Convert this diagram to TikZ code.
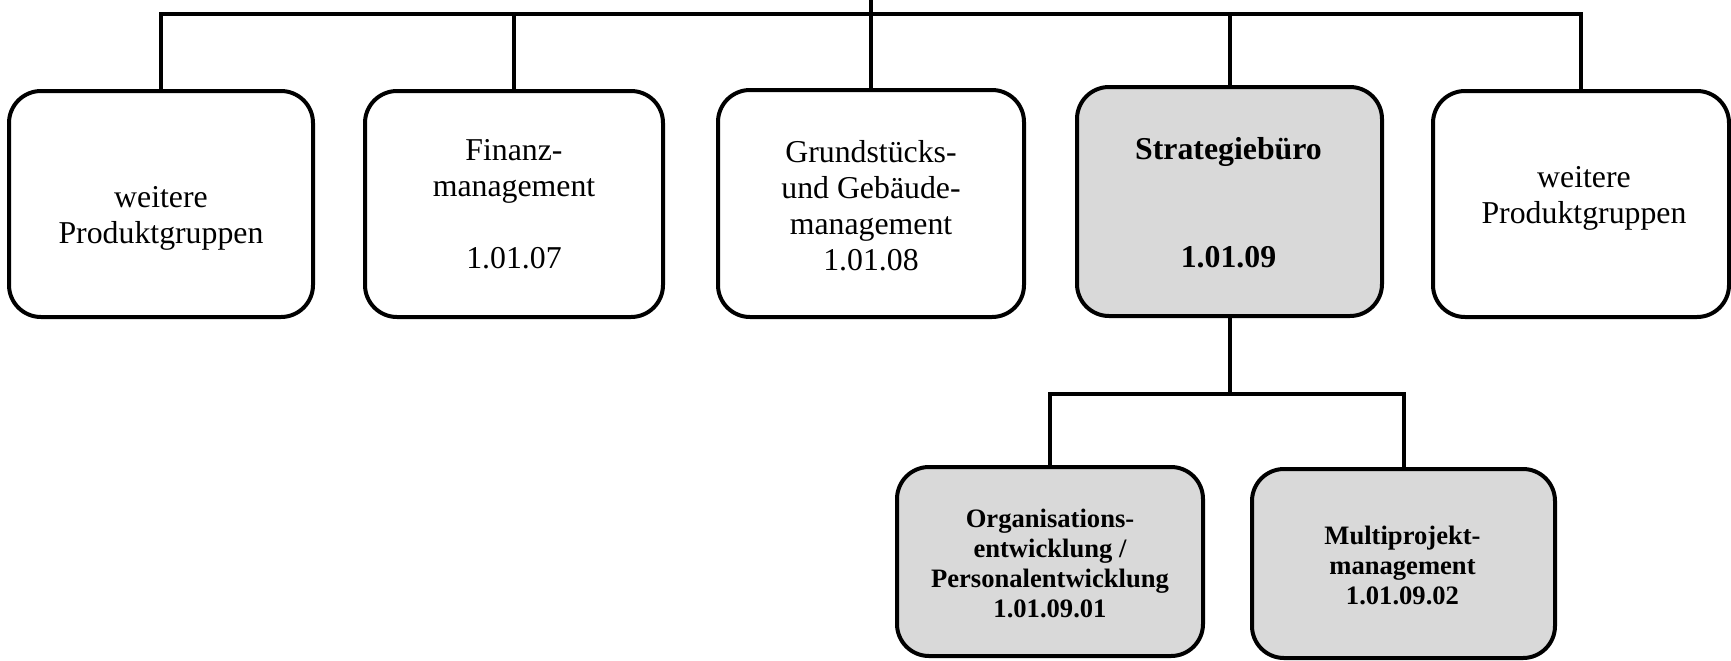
\documentclass[tikz,border=0pt]{standalone}
\usepackage{fontspec}
\setmainfont{Liberation Serif}
\begin{document}
\begin{tikzpicture}[x=0.5pt,y=-0.5pt,
  conn/.style={draw=black, line width=2pt},
  unit/.style={draw=black, line width=2pt, rounded corners=16pt, inner sep=0pt, outer sep=0pt, fill=white},
  subunit/.style={unit, fill=black!15},
  regtext/.style={inner sep=0pt, align=center, font=\fontsize{15.9}{18}\selectfont},
  boldtext/.style={inner sep=0pt, align=center, font=\bfseries\fontsize{15.9}{18}\selectfont},
  smalltext/.style={inner sep=0pt, align=center, font=\bfseries\fontsize{13.3}{15}\selectfont}]
\useasboundingbox (0,0) rectangle (1731,660);

% product group boxes
\node[unit, minimum width=152pt, minimum height=113pt] (b1) at (161,204) {};
\node[unit, minimum width=149pt, minimum height=113pt] (b2) at (514,204) {};
\node[unit, minimum width=153pt, minimum height=113.5pt] (b3) at (871,203.5) {};
\node[subunit, minimum width=152.5pt, minimum height=114.5pt] (b4) at (1229.5,201.5) {};
\node[unit, minimum width=148pt, minimum height=113pt] (b5) at (1581,204) {};

% sub units of the strategy office
\node[subunit, minimum width=153pt, minimum height=94.5pt] (c1) at (1050,561.5) {};
\node[subunit, minimum width=151.5pt, minimum height=94.5pt] (c2) at (1403.5,563.5) {};

% box texts
\node[regtext] (t1) at (161,218.3) {weitere\strut\\Produktgruppen\strut};
\node[regtext] (t2) at (514,207.3) {Finanz-\strut\\management\strut\\\strut\\1.01.07\strut};
\node[regtext] (t3) at (871,209.3) {Grundstücks-\strut\\und Gebäude-\strut\\management\strut\\1.01.08\strut};
\node[boldtext] (t4) at (1228.5,206.3) {Strategiebüro\strut\\\strut\\\strut\\1.01.09\strut};
\node[regtext] (t5) at (1584,197.8) {weitere\strut\\Produktgruppen\strut};
\node[smalltext] (t6) at (1050,566) {Organisations-\strut\\entwicklung /\strut\\Personalentwicklung\strut\\1.01.09.01\strut};
\node[smalltext] (t7) at (1402.5,568.5) {Multiprojekt-\strut\\management\strut\\1.01.09.02\strut};

% connector lines
\coordinate (top) at (871,0);
\coordinate (bus) at (871,14);
\coordinate (sbus) at (1229.5,394);
\draw[conn] (top) -- (b3.north);
\draw[conn] (b1.north) |- (bus) -| (b5.north);
\draw[conn] (b2.north) -- (b2.north |- bus);
\draw[conn] (b4.north) -- (b4.north |- bus);
\draw[conn] (b4.south) -- (sbus);
\draw[conn] (c1.north) |- (sbus) -| (c2.north);
\end{tikzpicture}
\end{document}
